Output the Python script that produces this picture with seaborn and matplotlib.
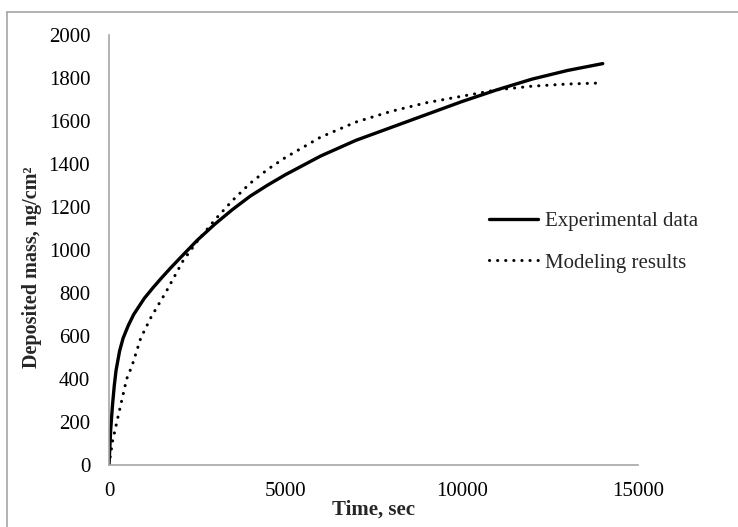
import numpy as np
import pandas as pd
import seaborn as sns
import matplotlib.pyplot as plt
from matplotlib.lines import Line2D

# Time (s) and deposited mass (ng/cm^2) for both series
exp_time = [0, 50, 100, 150, 200, 300, 400, 550, 700, 1000, 1250, 1500,
            1750, 2000, 2500, 3000, 3500, 4000, 4500, 5000, 6000, 7000, 8000,
            9000, 10000, 11000, 12000, 13000, 14000]
exp_mass = [0, 170, 280, 370, 440, 530, 590, 650, 700, 775, 825, 872,
            917, 960, 1045, 1120, 1188, 1250, 1302, 1350, 1437, 1510, 1570,
            1630, 1690, 1745, 1795, 1835, 1867]

model_time = [0, 100, 250, 500, 650, 900, 1200, 1600, 2100, 2500, 3000, 3500,
              4000, 4500, 5000, 6000, 7000, 8000, 9000, 10000, 11000, 12000,
              13000, 14000]
model_mass = [0, 110, 220, 400, 460, 590, 690, 800, 950, 1040, 1140, 1230,
              1310, 1375, 1430, 1525, 1595, 1645, 1685, 1715, 1745, 1762,
              1772, 1777]

series_names = ["Experimental data", "Modeling results"]
x_ticks = [0, 5000, 10000, 15000]
y_ticks = list(range(0, 2001, 200))

sns.set_theme(style="white")
plt.rcParams["font.family"] = ["Liberation Serif", "DejaVu Serif"]

fig = plt.figure(figsize=(7.38, 5.27), dpi=100)
ax = fig.add_axes([109 / 738, 62 / 527, 529 / 738, 430 / 527])

exp_df = pd.DataFrame({"t": exp_time, "m": exp_mass})
mod_df = pd.DataFrame({"t": model_time, "m": model_mass})

dotted = (0, (0.05, 2.6))
sns.lineplot(data=exp_df, x="t", y="m", ax=ax, color="black", lw=2.4,
             solid_capstyle="round", solid_joinstyle="round")
sns.lineplot(data=mod_df, x="t", y="m", ax=ax, color="black", lw=2.2,
             linestyle=dotted, dash_capstyle="round")

ax.set_xlim(0, 15000)
ax.set_ylim(0, 2000)
ax.set_xticks(x_ticks)
ax.set_yticks(y_ticks)
ax.tick_params(axis="both", length=0, labelsize=15, colors="black")
ax.tick_params(axis="y", pad=13.5)
ax.tick_params(axis="x", pad=12)

for side in ["top", "right"]:
    ax.spines[side].set_visible(False)
for side in ["left", "bottom"]:
    ax.spines[side].set_color("#a6a6a6")
    ax.spines[side].set_linewidth(1.2)

ax.set_xlabel("Time, sec", fontsize=15, fontweight="bold")
ax.set_ylabel("Deposited mass, ng/cm²", fontsize=14.5, fontweight="bold")
ax.xaxis.set_label_coords(0.5, -0.081)
ax.yaxis.set_label_coords(-0.127, 0.46)

handles = [
    Line2D([], [], color="black", lw=2.4),
    Line2D([], [], color="black", lw=2.2, linestyle=dotted,
           dash_capstyle="round"),
]
ax.legend(handles, series_names, loc="center left",
          bbox_to_anchor=(380 / 529, (465 - 242) / 430), frameon=False,
          fontsize=15, handlelength=2.35, handletextpad=0.34,
          labelspacing=1.07, borderaxespad=0, borderpad=0)

# chart-area outline along the left and top edges
fig.add_artist(Line2D([7 / 738, 7 / 738], [0, 1 - 12 / 527],
                      transform=fig.transFigure, color="#a6a6a6", lw=1.2))
fig.add_artist(Line2D([7 / 738, 1], [1 - 12 / 527, 1 - 12 / 527],
                      transform=fig.transFigure, color="#a6a6a6", lw=1.2))

fig.savefig("out.png", dpi=100)
